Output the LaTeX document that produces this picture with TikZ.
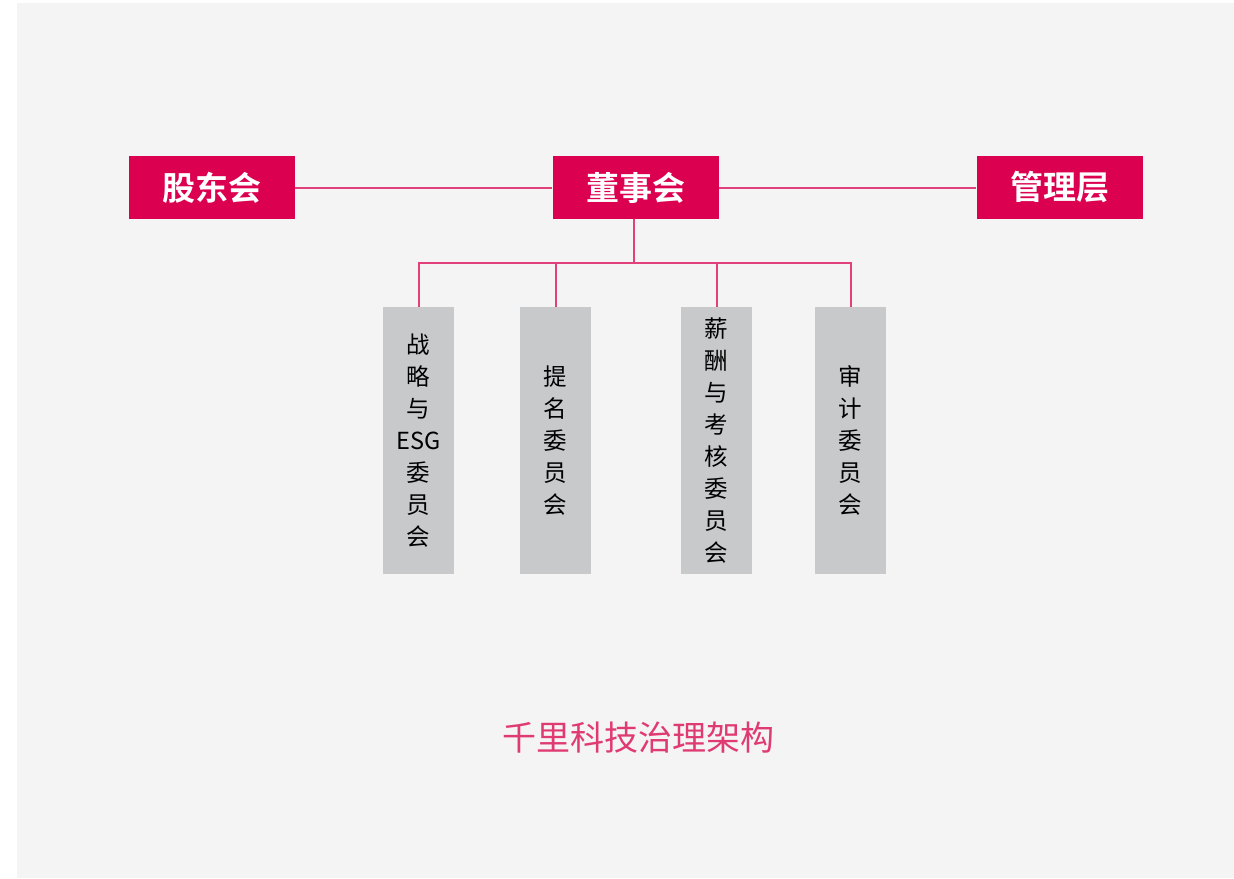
\documentclass[tikz,border=0pt]{standalone}
\usepackage{fontspec}
\setmainfont{Noto Sans CJK SC}
\newfontfamily\cjk{Noto Sans CJK SC}
\newfontfamily\cjkb{Noto Sans CJK SC Bold}
\definecolor{bgc}{HTML}{F4F4F4}
\definecolor{redc}{HTML}{DC0050}
\definecolor{linec}{HTML}{E2407A}
\definecolor{grayc}{HTML}{C8C9CB}
\definecolor{titc}{HTML}{E03A72}
\begin{document}
\begin{tikzpicture}[x=1pt,y=-1pt,
  topbox/.style={fill=redc,minimum width=166pt,minimum height=63pt,inner sep=0pt,text=white,font=\cjkb\fontsize{33}{36}\selectfont},
  combox/.style={fill=grayc,minimum width=71pt,minimum height=267pt,inner sep=0pt,align=center,text=black,font=\cjk\fontsize{23.5}{32}\selectfont},
  conn/.style={draw=linec,line width=2pt}]
\useasboundingbox (0,0) rectangle (1234,878);
\fill[white] (0,0) rectangle (1234,878);
\fill[bgc] (17,3) rectangle (1234,878);
\node[topbox] (gd) at (212,187.5) {股东会};
\node[topbox] (ds) at (635.5,187.5) {董事会};
\node[topbox] (gl) at (1059.5,187.5) {管理层};
\node[combox] (c1) at (418.5,440.5) {战\\略\\与\\ESG\\委\\员\\会};
\node[combox] (c2) at (555.5,440.5) {提\\名\\委\\员\\会};
\node[combox] (c3) at (716.5,440.5) {薪\\酬\\与\\考\\核\\委\\员\\会};
\node[combox] (c4) at (850.5,440.5) {审\\计\\委\\员\\会};
\coordinate (bus) at (634,263);
\draw[conn] (gd.east) -- (ds.west);
\draw[conn] (ds.east) -- (gl.west);
\draw[conn] (ds.south -| bus) -- (bus);
\draw[conn] (c1.north) -- (c1.north |- bus) -- (c4.north |- bus) -- (c4.north);
\draw[conn] (c2.north) -- (c2.north |- bus);
\draw[conn] (c3.north) -- (c3.north |- bus);
\node[text=titc,font=\cjk\fontsize{34}{38}\selectfont,inner sep=0pt] (title) at (638,738) {千里科技治理架构};
\end{tikzpicture}
\end{document}
